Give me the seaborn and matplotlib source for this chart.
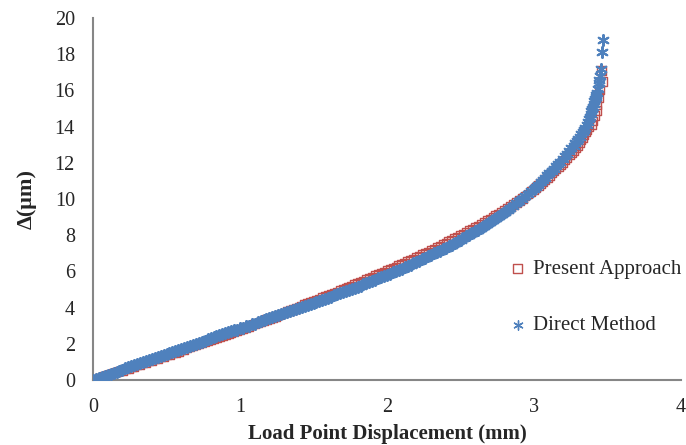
import matplotlib
matplotlib.use("Agg")
import matplotlib.pyplot as plt
import seaborn as sns
import pandas as pd

# ---- data ----
disp_body = [0.00, 0.02, 0.04, 0.06, 0.08, 0.10, 0.12, 0.14, 0.16, 0.18,
             0.20, 0.22, 0.24, 0.26, 0.28, 0.30, 0.32, 0.34, 0.36, 0.38,
             0.40, 0.42, 0.44, 0.46, 0.48, 0.50, 0.52, 0.54, 0.56, 0.58,
             0.60, 0.62, 0.64, 0.66, 0.68, 0.70, 0.72, 0.74, 0.76, 0.78,
             0.80, 0.82, 0.84, 0.86, 0.88, 0.90, 0.92, 0.94, 0.96, 0.98,
             1.00, 1.02, 1.04, 1.06, 1.08, 1.10, 1.12, 1.14, 1.16, 1.18,
             1.20, 1.22, 1.24, 1.26, 1.28, 1.30, 1.32, 1.34, 1.36, 1.38,
             1.40, 1.42, 1.44, 1.46, 1.48, 1.50, 1.52, 1.54, 1.56, 1.58,
             1.60, 1.62, 1.64, 1.66, 1.68, 1.70, 1.72, 1.74, 1.76, 1.78,
             1.80, 1.82, 1.84, 1.86, 1.88, 1.90, 1.92, 1.94, 1.96, 1.98,
             2.00, 2.02, 2.04, 2.06, 2.08, 2.10, 2.12, 2.14, 2.16, 2.18,
             2.20, 2.22, 2.24, 2.26, 2.28, 2.30, 2.32, 2.34, 2.36, 2.38,
             2.40, 2.42, 2.44, 2.46, 2.48, 2.50, 2.52, 2.54, 2.56, 2.58,
             2.60, 2.62, 2.64, 2.66, 2.68, 2.70, 2.72, 2.74, 2.76, 2.78,
             2.80, 2.82, 2.84, 2.86, 2.88, 2.90, 2.92, 2.94, 2.96, 2.98,
             3.00]

direct_body = [0.00, 0.06, 0.12, 0.17, 0.23, 0.29, 0.35, 0.40, 0.46, 0.52,
               0.58, 0.64, 0.70, 0.75, 0.81, 0.87, 0.93, 0.98, 1.04, 1.10,
               1.16, 1.22, 1.28, 1.33, 1.39, 1.45, 1.51, 1.56, 1.62, 1.68,
               1.74, 1.79, 1.85, 1.90, 1.96, 2.01, 2.07, 2.12, 2.18, 2.24,
               2.30, 2.35, 2.41, 2.46, 2.52, 2.57, 2.63, 2.68, 2.74, 2.79,
               2.85, 2.90, 2.96, 3.01, 3.07, 3.12, 3.18, 3.24, 3.30, 3.35,
               3.41, 3.46, 3.52, 3.57, 3.63, 3.68, 3.74, 3.80, 3.86, 3.91,
               3.97, 4.03, 4.09, 4.14, 4.20, 4.26, 4.32, 4.37, 4.43, 4.49,
               4.55, 4.61, 4.67, 4.73, 4.79, 4.85, 4.91, 4.97, 5.03, 5.09,
               5.16, 5.22, 5.29, 5.35, 5.42, 5.48, 5.55, 5.61, 5.68, 5.74,
               5.81, 5.88, 5.95, 6.02, 6.09, 6.16, 6.23, 6.30, 6.37, 6.44,
               6.52, 6.59, 6.67, 6.75, 6.83, 6.91, 6.99, 7.07, 7.15, 7.23,
               7.31, 7.39, 7.48, 7.57, 7.66, 7.75, 7.84, 7.93, 8.02, 8.11,
               8.21, 8.31, 8.41, 8.51, 8.61, 8.71, 8.82, 8.93, 9.04, 9.15,
               9.27, 9.39, 9.51, 9.63, 9.76, 9.89, 10.02, 10.15, 10.29, 10.43,
               10.57]

present_body = [0.00, 0.05, 0.10, 0.16, 0.21, 0.27, 0.32, 0.38, 0.43, 0.49,
                0.54, 0.60, 0.65, 0.71, 0.76, 0.82, 0.87, 0.93, 0.98, 1.04,
                1.09, 1.15, 1.20, 1.26, 1.31, 1.37, 1.42, 1.48, 1.53, 1.59,
                1.65, 1.70, 1.76, 1.82, 1.87, 1.93, 1.99, 2.04, 2.10, 2.16,
                2.21, 2.27, 2.33, 2.38, 2.44, 2.50, 2.56, 2.61, 2.67, 2.73,
                2.79, 2.85, 2.91, 2.97, 3.03, 3.09, 3.15, 3.21, 3.27, 3.33,
                3.39, 3.45, 3.52, 3.58, 3.64, 3.70, 3.77, 3.83, 3.90, 3.96,
                4.03, 4.09, 4.16, 4.22, 4.29, 4.35, 4.42, 4.48, 4.55, 4.61,
                4.68, 4.74, 4.81, 4.87, 4.94, 5.00, 5.07, 5.13, 5.20, 5.27,
                5.34, 5.41, 5.48, 5.55, 5.62, 5.69, 5.76, 5.83, 5.90, 5.97,
                6.04, 6.11, 6.18, 6.25, 6.32, 6.39, 6.47, 6.54, 6.62, 6.69,
                6.77, 6.84, 6.92, 7.00, 7.08, 7.16, 7.24, 7.32, 7.40, 7.48,
                7.56, 7.64, 7.73, 7.81, 7.90, 7.98, 8.07, 8.16, 8.25, 8.34,
                8.43, 8.52, 8.61, 8.70, 8.80, 8.89, 8.99, 9.08, 9.18, 9.28,
                9.38, 9.48, 9.59, 9.70, 9.81, 9.92, 10.04, 10.16, 10.28, 10.40,
                10.52]

direct_tail_x = [3.015, 3.03, 3.045, 3.06, 3.075, 3.09, 3.105, 3.12, 3.135, 3.15,
                 3.165, 3.18, 3.195, 3.21, 3.225, 3.24, 3.255, 3.27, 3.28, 3.29,
                 3.30, 3.31, 3.32, 3.33, 3.34, 3.35, 3.358, 3.365, 3.372, 3.38,
                 3.385, 3.39, 3.395, 3.40, 3.405, 3.41, 3.415, 3.42, 3.425, 3.43,
                 3.435, 3.44, 3.445, 3.45, 3.455, 3.46, 3.467]
direct_tail_y = [10.69, 10.80, 10.92, 11.05, 11.17, 11.30, 11.42, 11.55, 11.67, 11.80,
                 11.92, 12.05, 12.20, 12.35, 12.50, 12.65, 12.80, 12.95, 13.08, 13.20,
                 13.33, 13.45, 13.58, 13.70, 13.83, 13.95, 14.10, 14.25, 14.40, 14.55,
                 14.70, 14.85, 14.98, 15.10, 15.25, 15.40, 15.52, 15.65, 15.75, 15.85,
                 16.10, 16.40, 16.60, 16.80, 17.20, 18.10, 18.80]

present_tail_x = [3.015, 3.03, 3.045, 3.06, 3.075, 3.09, 3.105, 3.12, 3.135, 3.15,
                  3.165, 3.18, 3.195, 3.21, 3.225, 3.24, 3.255, 3.27, 3.285, 3.30,
                  3.31, 3.32, 3.33, 3.34, 3.35, 3.36, 3.375, 3.39, 3.40, 3.415,
                  3.425, 3.43, 3.44, 3.445, 3.467, 3.46]
present_tail_y = [10.63, 10.74, 10.85, 10.97, 11.08, 11.20, 11.31, 11.43, 11.55, 11.67,
                  11.79, 11.91, 12.03, 12.16, 12.29, 12.42, 12.55, 12.69, 12.83, 12.97,
                  13.11, 13.25, 13.40, 13.55, 13.70, 13.85, 13.98, 14.10, 14.30, 14.60,
                  14.90, 15.20, 15.60, 16.06, 16.50, 17.10]

series_names = ["Present Approach", "Direct Method"]
x_ticks = [0, 1, 2, 3, 4]
y_ticks = [0, 2, 4, 6, 8, 10, 12, 14, 16, 18, 20]

present = pd.DataFrame({"x": disp_body + present_tail_x,
                        "y": present_body + present_tail_y})
direct = pd.DataFrame({"x": disp_body + direct_tail_x,
                       "y": direct_body + direct_tail_y})

# ---- styling ----
sns.set_style("white")
plt.rcParams["font.family"] = ["Liberation Serif", "DejaVu Serif"]

RED = "#C0504D"
BLUE = "#4F81BD"
GRAY = "#868686"

fig = plt.figure(figsize=(6.86, 4.45), dpi=100)
ax = fig.add_axes([93 / 686, 65 / 445, 588 / 686, 362 / 445])

sns.scatterplot(data=present, x="x", y="y", ax=ax, marker="s", s=38,
                facecolor="none", edgecolor=RED, linewidth=1.0,
                label=series_names[0], zorder=3)
sns.scatterplot(data=direct, x="x", y="y", ax=ax, marker=(6, 2, 0), s=62,
                color=BLUE, linewidth=1.5, label=series_names[1], zorder=4)

ax.set_xlim(0, 4)
ax.set_ylim(0, 20)
ax.set_xticks(x_ticks)
ax.set_yticks(y_ticks)
ax.tick_params(axis="both", length=0, labelsize=14.5)
ax.tick_params(axis="x", pad=13)
ax.tick_params(axis="y", pad=13)

for side in ["top", "right"]:
    ax.spines[side].set_visible(False)
for side in ["left", "bottom"]:
    ax.spines[side].set_color(GRAY)
    ax.spines[side].set_linewidth(1.5)

ax.set_xlabel("Load Point Displacement (mm)", fontsize=15, fontweight="bold",
              labelpad=5)
ax.set_ylabel("Δ(μm)", fontsize=16, fontweight="bold", labelpad=13)

leg = ax.legend(loc="upper left", bbox_to_anchor=(0.695, 0.355), frameon=False,
                fontsize=15, labelspacing=1.75, handletextpad=0.35,
                handlelength=0.75, borderaxespad=0)
handles = leg.legend_handles
handles[0].set_sizes([42])
handles[0].set_linewidth(1.0)
handles[1].set_sizes([45])
handles[1].set_linewidth(1.0)

fig.savefig("out.png", dpi=100)
